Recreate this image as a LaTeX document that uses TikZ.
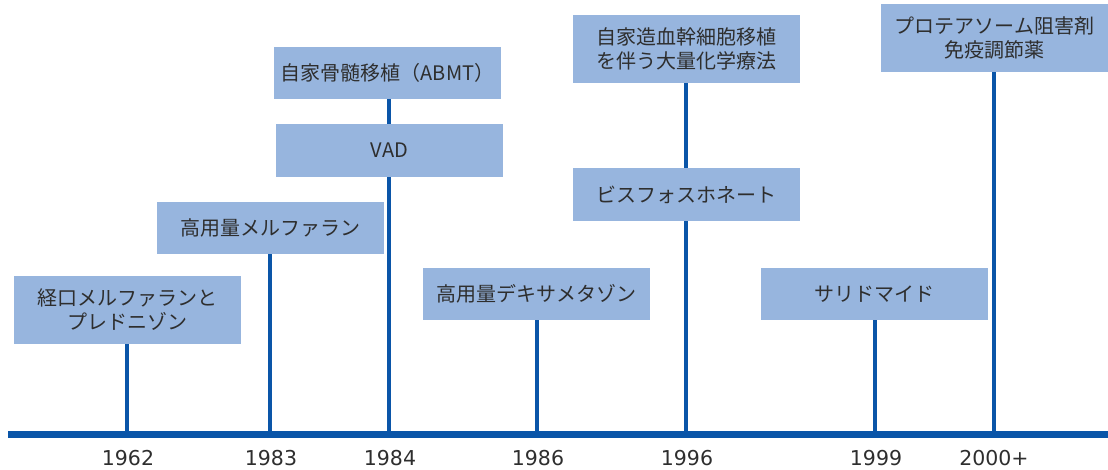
\documentclass[tikz,border=0pt]{standalone}
\usepackage{fontspec}
\setmainfont{Noto Sans CJK JP}
\newfontfamily\yrfont{DejaVu Sans}
\definecolor{boxblue}{HTML}{97B5DE}
\definecolor{lineblue}{HTML}{0A55A8}
\definecolor{txt}{HTML}{2E2E2E}
\begin{document}
\begin{tikzpicture}[x=1pt,y=-1pt,
  box/.style={fill=boxblue,draw=none,inner sep=0pt,minimum width=227pt,text=txt,align=center,
    font=\fontsize{20}{24}\selectfont},
  hbox/.style={box,minimum height=52pt},
  tbox/.style={box,minimum height=68pt},
  conn/.style={draw=lineblue,line width=3.6pt},
  yr/.style={text=txt,font=\yrfont\fontsize{20.5}{24}\selectfont,inner sep=0pt}]
\useasboundingbox (0,0) rectangle (1108,470);
% axis
\coordinate (axL) at (8,434);
\coordinate (axR) at (1108,434);
\coordinate (t1962) at (127,434);
\coordinate (t1983) at (270,434);
\coordinate (t1984) at (389,434);
\coordinate (t1986) at (537,434);
\coordinate (t1996) at (686,434);
\coordinate (t1999) at (875,434);
\coordinate (t2000) at (994,434);
% boxes
\node[tbox] (b1) at (127.5,310) {経口メルファランと\\プレドニゾン};
\node[hbox] (b2) at (270,228) {高用量メルファラン};
\node[hbox,minimum height=53pt] (b3) at (389.5,150.5) {VAD};
\node[hbox] (b4) at (387.5,73) {自家骨髄移植（ABMT）};
\node[hbox] (b5) at (536,294) {高用量デキサメタゾン};
\node[tbox] (b6) at (686.5,49) {自家造血幹細胞移植\\を伴う大量化学療法};
\node[hbox,minimum height=53pt] (b7) at (686.5,194.5) {ビスフォスホネート};
\node[hbox] (b8) at (874,294) {サリドマイド};
\node[tbox] (b9) at (994.5,38) {プロテアソーム阻害剤\\免疫調節薬};
% connectors
\draw[conn] (b1.south -| t1962) -- (t1962);
\draw[conn] (b2.south -| t1983) -- (t1983);
\draw[conn] (b4.south -| t1984) -- (b3.north -| t1984);
\draw[conn] (b3.south -| t1984) -- (t1984);
\draw[conn] (b5.south -| t1986) -- (t1986);
\draw[conn] (b6.south -| t1996) -- (b7.north -| t1996);
\draw[conn] (b7.south -| t1996) -- (t1996);
\draw[conn] (b8.south -| t1999) -- (t1999);
\draw[conn] (b9.south -| t2000) -- (t2000);
\draw[draw=lineblue,line width=7pt] (axL) -- (axR);
% year labels
\node[yr] (y1962) at (128,458) {1962};
\node[yr] (y1983) at (271,458) {1983};
\node[yr] (y1984) at (390,458) {1984};
\node[yr] (y1986) at (538,458) {1986};
\node[yr] (y1996) at (687,458) {1996};
\node[yr] (y1999) at (876,458) {1999};
\node[yr] (y2000) at (994,458) {2000+};
\end{tikzpicture}
\end{document}
